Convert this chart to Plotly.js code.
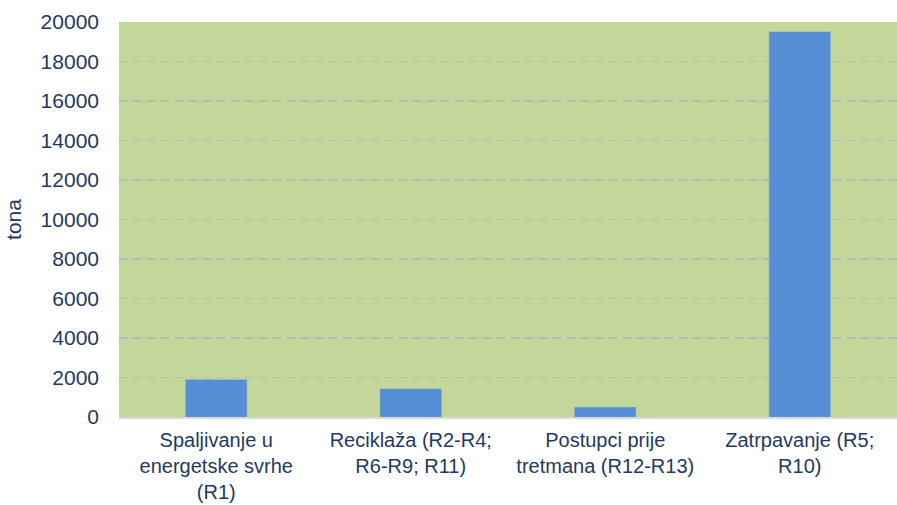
<!DOCTYPE html>
<html>
<head>
<meta charset="utf-8">
<script src="https://cdn.plot.ly/plotly-3.0.1.min.js"></script>
<style>html,body{margin:0;padding:0;background:#fff;}#chart{width:897px;height:505px;}</style>
</head>
<body>
<div id="chart"></div>
<script>
const categories = [
  "Spaljivanje u<br>energetske svrhe<br>(R1)",
  "Reciklaža (R2-R4;<br>R6-R9; R11)",
  "Postupci prije<br>tretmana (R12-R13)",
  "Zatrpavanje (R5;<br>R10)"
];
const values = [1880, 1420, 490, 19500];
const yTicks = [0, 2000, 4000, 6000, 8000, 10000, 12000, 14000, 16000, 18000, 20000];

const textColor = "#1f3a5f";
const trace = {
  type: "bar",
  x: categories,
  y: values,
  marker: {color: "#558ed5", line: {color: "#6a9bd8", width: 0.5}},
  hoverinfo: "x+y"
};
const layout = {
  width: 897, height: 505,
  margin: {l: 119, r: 0, t: 22, b: 88},
  paper_bgcolor: "#ffffff",
  plot_bgcolor: "#c4d79b",
  bargap: 0.686,
  showlegend: false,
  font: {family: "Liberation Sans, Arial, sans-serif", size: 20, color: textColor},
  xaxis: {
    showgrid: false,
    showline: true, linecolor: "#d9d9d9", linewidth: 2,
    ticks: "", ticklabelstandoff: 4,
    tickfont: {size: 20, color: textColor}
  },
  yaxis: {
    range: [0, 20000],
    tickvals: yTicks,
    ticktext: yTicks.map(String),
    showgrid: true, gridcolor: "#b8b8b8", griddash: "8px,6px", gridwidth: 1.6,
    zeroline: false, showline: false,
    ticks: "", ticklabelstandoff: 19,
    tickfont: {size: 21, color: textColor},
    title: {text: "tona", font: {size: 21, color: textColor}, standoff: 13}
  }
};
Plotly.newPlot("chart", [trace], layout, {displayModeBar: false, staticPlot: true});
</script>
</body>
</html>
